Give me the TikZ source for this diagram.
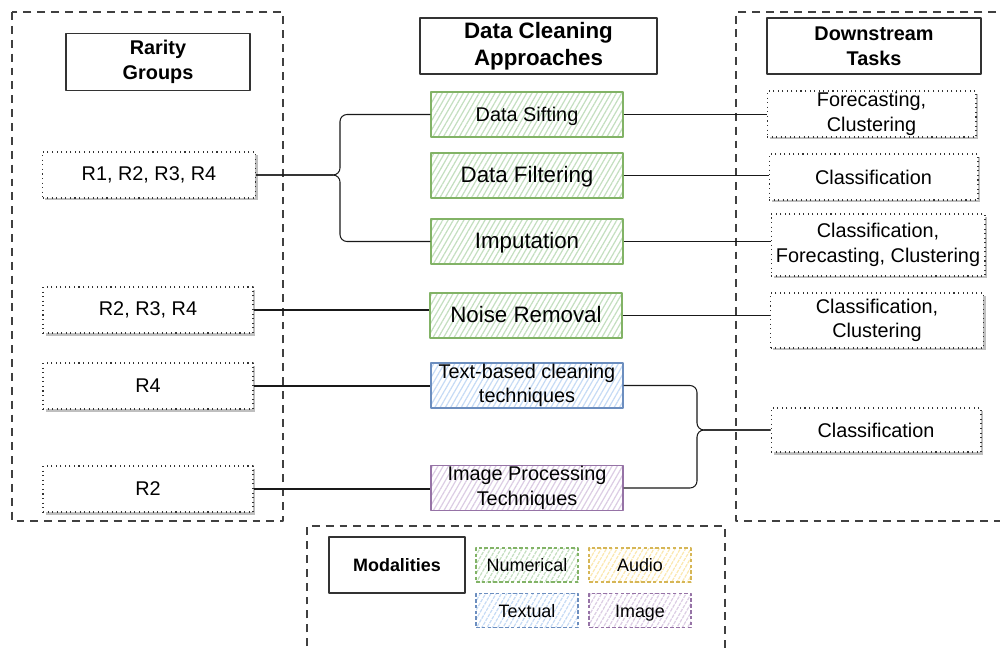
\documentclass[tikz,border=0pt]{standalone}
\usepackage{fontspec}
\setmainfont{Liberation Sans}
\usetikzlibrary{patterns.meta,shadows}
\definecolor{greenln}{HTML}{82B366}
\definecolor{greenfl}{HTML}{C4DFC0}
\definecolor{blueln}{HTML}{6C8EBF}
\definecolor{bluefl}{HTML}{C6DBF5}
\definecolor{purpleln}{HTML}{9673A6}
\definecolor{purplefl}{HTML}{DCCDE4}
\definecolor{yellowln}{HTML}{D6B656}
\definecolor{yellowfl}{HTML}{FBE8B0}
\newcommand{\fnorm}{\fontsize{11.3}{14}\selectfont}
\newcommand{\fbig}{\fontsize{12.7}{15.3}\selectfont}
\newcommand{\fsmall}{\fontsize{10.2}{12}\selectfont}
\tikzset{
	region/.style={draw=black!75,line width=0.6pt,dash pattern=on 4.5pt off 3.4pt},
	headbox/.style={draw=black!80,line width=0.8pt,align=center,font=\fnorm\bfseries,inner sep=0pt},
	itembox/.style={draw=black!80,dotted,line width=0.6pt,fill=white,align=center,font=\fnorm,inner sep=0pt,minimum height=0.92cm,
		drop shadow={shadow xshift=0.05cm,shadow yshift=-0.05cm,fill=black!25,opacity=1}},
	approach/.style={draw=#1ln,line width=0.8pt,pattern={Lines[angle=60,distance=2.6pt,line width=0.7pt]},pattern color=#1fl,
		align=center,font=\fnorm,inner sep=0pt,minimum width=3.84cm,minimum height=0.9cm},
	oneline/.style={text height=0.88em,text depth=0.12em},
	modal/.style={draw=#1ln,line width=0.8pt,dash pattern=on 2pt off 1.3pt,pattern={Lines[angle=60,distance=2.6pt,line width=0.7pt]},
		pattern color=#1fl,font=\fsmall,oneline,inner sep=0pt,minimum width=2.04cm,minimum height=0.68cm},
	link/.style={draw=black!90,line width=0.6pt}
}
\begin{document}
\begin{tikzpicture}[x=0.02cm,y=-0.02cm,line join=round]
	\useasboundingbox (0,0) rectangle (1000,649);
	% regions
	\draw[region] (12,12) rectangle (283,521);
	\draw[region] (1010,12) -- (736,12) -- (736,521) -- (1010,521);
	\draw[region] (307,660) -- (307,526) -- (725,526) -- (725,660);
	% headers
	\node[headbox,minimum width=3.68cm,minimum height=1.14cm] (rarity) at (158,62) {Rarity\\Groups};
	\node[headbox,font=\fbig\bfseries,minimum width=4.74cm,minimum height=1.12cm] (approaches) at (538.5,46) {Data Cleaning\\Approaches};
	\node[headbox,minimum width=4.28cm,minimum height=1.12cm] (tasks) at (874,46) {Downstream\\Tasks};
	% rarity groups
	\node[itembox,minimum width=4.26cm] (r1234) at (149,175) {R1, R2, R3, R4};
	\node[itembox,minimum width=4.2cm] (r234) at (148,310) {R2, R3, R4};
	\node[itembox,minimum width=4.2cm] (r4) at (148,386) {R4};
	\node[itembox,minimum width=4.2cm] (r2) at (148,489) {R2};
	% approaches
	\node[approach=green,oneline] (sift) at (527,114.5) {Data Sifting};
	\node[approach=green,oneline,font=\fbig] (filter) at (527,175.5) {Data Filtering};
	\node[approach=green,oneline,font=\fbig] (imput) at (527,241.5) {Imputation};
	\node[approach=green,oneline,font=\fbig] (noise) at (526,315.5) {Noise Removal};
	\node[approach=blue] (textc) at (527,385.5) {Text-based cleaning\\techniques};
	\node[approach=purple] (imgp) at (527,488) {Image Processing\\Techniques};
	% tasks
	\node[itembox,minimum width=4.18cm] (fc) at (871.5,114) {Forecasting,\\Clustering};
	\node[itembox,minimum width=4.18cm] (cl1) at (873.5,177) {Classification};
	\node[itembox,minimum width=4.28cm,minimum height=1.24cm] (cfc) at (878,245) {Classification,\\Forecasting, Clustering};
	\node[itembox,minimum width=4.26cm,minimum height=1.1cm] (cc) at (877,320.5) {Classification,\\Clustering};
	\node[itembox,minimum width=4.2cm,minimum height=0.88cm] (cl2) at (876,430) {Classification};
	% legend
	\node[headbox,font=\fsmall\bfseries,minimum width=2.72cm,minimum height=1.12cm] (modal) at (397,565) {Modalities};
	\node[modal=green] (num) at (527,565) {Numerical};
	\node[modal=yellow] (aud) at (640,565) {Audio};
	\node[modal=blue] (txt) at (527,610.5) {Textual};
	\node[modal=purple] (img) at (640,610.5) {Image};
	% links
	\coordinate (brL) at (340,0 |- r1234.east);
	\coordinate (brR) at (697,0 |- cl2.west);
	\draw[link,rounded corners=4pt] (r1234.east) -- (brL) |- (sift.west);
	\draw[link,rounded corners=4pt] (r1234.east) -- (brL) |- (imput.west);
	\draw[link] (r234.east) -- (r234.east -| noise.west);
	\draw[link] (r4.east) -- (r4.east -| textc.west);
	\draw[link] (r2.east) -- (r2.east -| imgp.west);
	\draw[link] (sift.east) -- (sift.east -| fc.west);
	\draw[link] (filter.east) -- (filter.east -| cl1.west);
	\draw[link] (imput.east) -- (imput.east -| cfc.west);
	\draw[link] (noise.east) -- (noise.east -| cc.west);
	\draw[link,rounded corners=4pt] (textc.east) -| (brR) -- (cl2.west);
	\draw[link,rounded corners=4pt] (imgp.east) -| (brR) -- (cl2.west);
\end{tikzpicture}
\end{document}
